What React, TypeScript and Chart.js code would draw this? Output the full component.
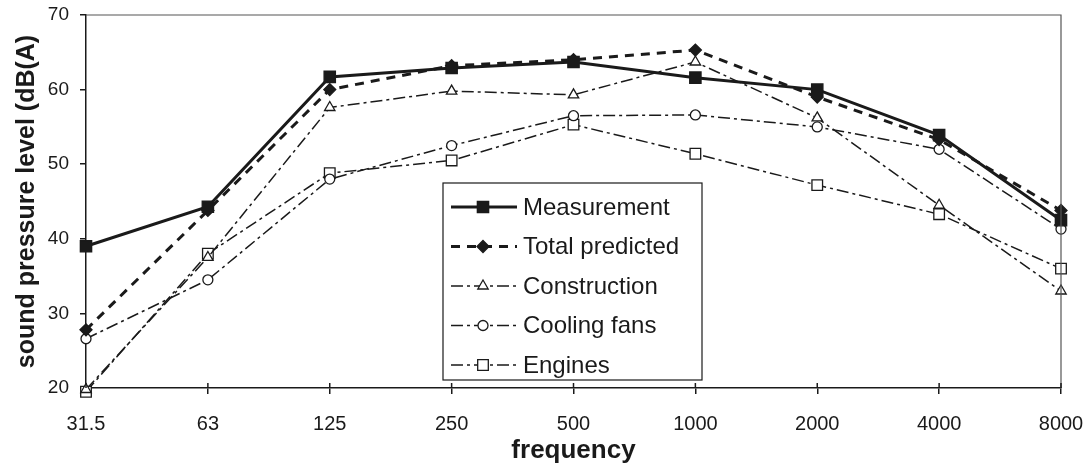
import React, { useEffect, useRef } from "react";
import { Chart, registerables } from "chart.js";

Chart.register(...registerables);

const categories = ["31.5", "63", "125", "250", "500", "1000", "2000", "4000", "8000"];
const measurement = [39, 44.3, 61.7, 62.9, 63.7, 61.6, 60, 53.9, 42.5];
const totalPredicted = [27.8, 43.8, 60, 63.2, 64, 65.3, 59, 53.3, 43.8];
const construction = [19.8, 37.5, 57.6, 59.8, 59.3, 63.7, 56.2, 44.5, 33];
const coolingFans = [26.6, 34.5, 48, 52.5, 56.5, 56.6, 55, 52, 41.3];
const engines = [19.5, 38, 48.8, 50.5, 55.3, 51.4, 47.2, 43.3, 36];
const yTicks = [20, 30, 40, 50, 60, 70];

const FONT = "'Liberation Sans', Arial, Helvetica, sans-serif";
const INK = "#1a1a1a";
const DASHDOT = [12, 4, 3, 4];

type SeriesStyle = {
  label: string;
  data: number[];
  width: number;
  dash: number[];
  marker: "rect" | "rectRot" | "triangle" | "circle";
  filled: boolean;
  radius: number;
};

const series: SeriesStyle[] = [
  { label: "Measurement", data: measurement, width: 3, dash: [], marker: "rect", filled: true, radius: 8 },
  { label: "Total predicted", data: totalPredicted, width: 3, dash: [9, 7], marker: "rectRot", filled: true, radius: 6 },
  { label: "Construction", data: construction, width: 1.5, dash: DASHDOT, marker: "triangle", filled: false, radius: 6 },
  { label: "Cooling fans", data: coolingFans, width: 1.5, dash: DASHDOT, marker: "circle", filled: false, radius: 5 },
  { label: "Engines", data: engines, width: 1.5, dash: DASHDOT, marker: "rect", filled: false, radius: 7.5 },
];

function drawMarker(ctx: CanvasRenderingContext2D, s: SeriesStyle, x: number, y: number) {
  const r = s.radius;
  ctx.save();
  ctx.setLineDash([]);
  ctx.lineWidth = 1.3;
  ctx.strokeStyle = INK;
  ctx.fillStyle = s.filled ? INK : "#ffffff";
  ctx.beginPath();
  if (s.marker === "rect") {
    const h = r * Math.SQRT1_2;
    ctx.rect(x - h, y - h, 2 * h, 2 * h);
  } else if (s.marker === "rectRot") {
    ctx.moveTo(x, y - r);
    ctx.lineTo(x + r, y);
    ctx.lineTo(x, y + r);
    ctx.lineTo(x - r, y);
    ctx.closePath();
  } else if (s.marker === "triangle") {
    const a = (2 * Math.PI) / 3;
    ctx.moveTo(x, y - r);
    ctx.lineTo(x + Math.sin(a) * r, y - Math.cos(a) * r);
    ctx.lineTo(x - Math.sin(a) * r, y - Math.cos(a) * r);
    ctx.closePath();
  } else {
    ctx.arc(x, y, r, 0, Math.PI * 2);
  }
  ctx.fill();
  ctx.stroke();
  ctx.restore();
}

const framePlugin = {
  id: "frame",
  afterDraw(chart: any) {
    const { ctx, chartArea } = chart;
    const { left, top, right, bottom } = chartArea;
    ctx.save();
    ctx.strokeStyle = "#555";
    ctx.lineWidth = 1.2;
    ctx.beginPath();
    ctx.moveTo(left, top);
    ctx.lineTo(right, top);
    ctx.lineTo(right, bottom);
    ctx.stroke();
    const xs = chart.scales.x;
    ctx.strokeStyle = INK;
    ctx.lineWidth = 1.5;
    categories.forEach((_, i) => {
      const px = xs.getPixelForValue(i);
      ctx.beginPath();
      ctx.moveTo(px, bottom);
      ctx.lineTo(px, bottom - 5);
      ctx.stroke();
    });

    // legend
    const bx = 443, by = 183, bw = 259, bh = 197;
    ctx.fillStyle = "#ffffff";
    ctx.fillRect(bx, by, bw, bh);
    ctx.strokeStyle = INK;
    ctx.lineWidth = 1.2;
    ctx.strokeRect(bx, by, bw, bh);
    ctx.font = `24px ${FONT}`;
    ctx.textBaseline = "middle";
    ctx.textAlign = "left";
    series.forEach((s, i) => {
      const y = 207 + i * 39.5;
      ctx.save();
      ctx.strokeStyle = INK;
      ctx.lineWidth = s.width;
      ctx.setLineDash(s.dash);
      ctx.beginPath();
      ctx.moveTo(451, y);
      ctx.lineTo(517, y);
      ctx.stroke();
      ctx.restore();
      drawMarker(ctx, s, 483, y);
      ctx.fillStyle = INK;
      ctx.fillText(s.label, 523, y + 1);
    });
    ctx.restore();
  },
};

export default function App() {
  const ref = useRef<HTMLCanvasElement | null>(null);

  useEffect(() => {
    document.body.style.margin = "0";
    const canvas = ref.current;
    if (!canvas) return;
    const chart = new Chart(canvas, {
      type: "line",
      data: {
        labels: categories,
        datasets: series.map((s) => ({
          label: s.label,
          data: s.data,
          borderColor: INK,
          borderWidth: s.width,
          borderDash: s.dash,
          pointStyle: s.marker,
          pointRadius: s.radius,
          pointBorderWidth: 1.3,
          pointBorderColor: INK,
          pointBackgroundColor: s.filled ? INK : "#ffffff",
          tension: 0,
          fill: false,
          clip: false as any,
        })),
      },
      options: {
        animation: false,
        responsive: false,
        maintainAspectRatio: false,
        layout: { padding: { left: 0, top: 15, right: 29, bottom: 0 } },
        plugins: {
          legend: { display: false },
          tooltip: { enabled: false },
        },
        scales: {
          x: {
            type: "category",
            offset: false,
            grid: { display: true, drawOnChartArea: false, drawTicks: true, tickLength: 6, color: INK, lineWidth: 1.5 },
            border: { display: true, color: INK, width: 1.5 },
            ticks: { color: INK, font: { family: FONT, size: 20 }, padding: 18, maxRotation: 0, autoSkip: false },
            title: { display: true, text: "frequency", color: INK, font: { family: FONT, size: 26, weight: "bold" }, padding: { top: 0, bottom: 4 } },
            afterFit: (scale: any) => {
              scale.height = 82;
              scale.paddingLeft = 0;
              scale.paddingRight = 0;
            },
          },
          y: {
            min: 20,
            max: 70,
            afterBuildTicks: (scale: any) => { scale.ticks = yTicks.map((v) => ({ value: v })); },
            grid: { display: true, drawOnChartArea: false, drawTicks: true, tickLength: 6, color: INK, lineWidth: 1.5 },
            border: { display: true, color: INK, width: 1.5 },
            ticks: { color: INK, font: { family: FONT, size: 19 }, padding: 11 },
            title: { display: true, text: "sound pressure level (dB(A)", color: INK, font: { family: FONT, size: 25, weight: "bold" }, padding: { top: 12, bottom: 0 } },
            afterFit: (scale: any) => {
              scale.width = 86;
              scale.paddingTop = 0;
              scale.paddingBottom = 0;
            },
          },
        },
      },
      plugins: [framePlugin],
    });
    return () => chart.destroy();
  }, []);

  return (
    <div style={{ width: 1090, height: 470, background: "#fff" }}>
      <canvas ref={ref} width={1090} height={470} style={{ display: "block" }} />
    </div>
  );
}
